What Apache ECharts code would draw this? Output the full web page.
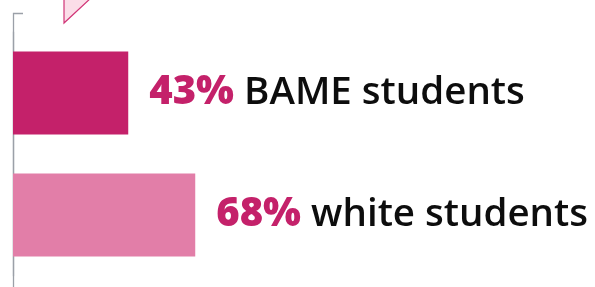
<!DOCTYPE html>
<html>
<head>
<meta charset="utf-8">
<script src="https://cdn.jsdelivr.net/npm/echarts@6/dist/echarts.min.js"></script>
<style>
  html, body { margin: 0; padding: 0; background: #fff; }
  #chart { width: 595px; height: 287px; }
</style>
</head>
<body>
<div id="chart"></div>
<script>
// students, share in %
var groups = ['BAME students', 'white students'];
var shares = [43, 68];
var barColors = ['#c4216a', '#e27ea8'];

var chart = echarts.init(document.getElementById('chart'));

var option = {
    animation: false,
    grid: { left: 13, right: 314, top: 32, bottom: 11 },
    xAxis: {
        type: 'value',
        min: 0,
        max: 100,
        show: false
    },
    yAxis: {
        type: 'category',
        data: groups,
        inverse: true,
        axisLine: { show: true, lineStyle: { color: '#9ba0a8', width: 1.3 } },
        axisTick: { show: false },
        axisLabel: { show: false }
    },
    graphic: [
        // axis runs past the plot, with a small cap at the top
        {
            type: 'polyline',
            shape: { points: [[23, 13.5], [13.5, 13.5], [13.5, 290]] },
            style: { stroke: '#9ba0a8', lineWidth: 1.3, fill: null }
        },
        // pointer tail cut off at the top edge
        {
            type: 'polygon',
            shape: { points: [[64, -3], [64, 23], [92, -3]] },
            style: { fill: '#fbdde8', stroke: '#d13577', lineWidth: 1.2 }
        }
    ],
    series: [{
        type: 'bar',
        barWidth: 83,
        data: shares.map(function (v, i) {
            return { value: v, itemStyle: { color: barColors[i] } };
        }),
        label: {
            show: true,
            position: 'right',
            distance: 21,
            formatter: function (p) {
                return '{a|' + p.value + '%}{b| ' + groups[p.dataIndex] + '}';
            },
            rich: {
                a: {
                    fontFamily: 'Open Sans',
                    fontSize: 40,
                    fontWeight: 800,
                    color: '#c4216a'
                },
                b: {
                    fontFamily: 'Open Sans',
                    fontSize: 38.5,
                    fontWeight: 600,
                    color: '#0d0d0d'
                }
            }
        }
    }]
};

chart.setOption(option);
</script>
</body>
</html>
